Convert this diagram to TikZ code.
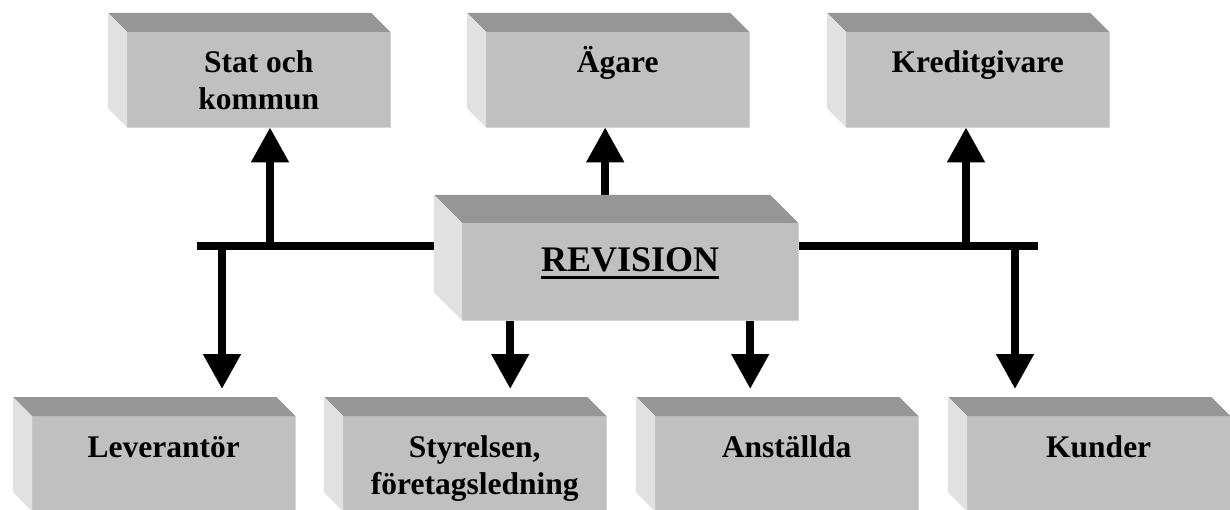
\documentclass[tikz,border=0pt]{standalone}
\usepackage{fontspec}
\setmainfont{Liberation Serif}
\usetikzlibrary{arrows.meta, backgrounds}

\definecolor{boxfront}{RGB}{192,192,192}
\definecolor{boxtop}{RGB}{150,150,150}
\definecolor{boxside}{RGB}{225,225,225}
\definecolor{boxedge}{RGB}{212,212,212}

\newcommand\twolines[2]{\begin{tabular}[t]{@{}c@{}}#1\\#2\end{tabular}}
\newcommand\thickul[1]{\vtop{\hbox{#1}\kern4.5pt\hrule height 3pt}}

\begin{document}
\begin{tikzpicture}[x=1pt, y=-1pt,
    box/.style={rectangle, fill=boxfront, inner sep=0pt,
        minimum width=263pt, text height=40pt, text depth=55pt,
        anchor=north west, font=\bfseries\fontsize{31.5}{37}\selectfont},
    lowbox/.style={box, text height=41pt, text depth=54pt},
    revbox/.style={box, minimum width=336pt, text height=48pt,
        text depth=49pt, font=\bfseries\fontsize{36}{42}\selectfont},
    bus/.style={line width=8pt},
    pil/.style={line width=8pt, -{Triangle[width=36pt, length=35pt]}}]

    \useasboundingbox (0,0) rectangle (1230,510);

    \node[revbox] (rev) at (462,223) {\thickul{REVISION}};

    \node[box] (stat) at (127,32) {\twolines{Stat och}{kommun}};
    \node[box] (agare) at (486,32) {Ägare};
    \node[box] (kredit) at (846,32) {Kreditgivare};

    \node[lowbox] (lev) at (32,416) {Leverantör};
    \node[lowbox] (styr) at (343,416) {\twolines{Styrelsen,}{företagsledning}};
    \node[lowbox] (anst) at (655,416) {Anställda};
    \node[lowbox] (kund) at (967,416) {Kunder};

    \foreach \n/\d in {stat/19, agare/19, kredit/19, lev/19, styr/19,
        anst/19, kund/19, rev/28} {
        \fill[boxtop] (\n.north west) -- ++(-\d,-\d)
            -- ([shift={(-\d,-\d)}]\n.north east) -- (\n.north east) -- cycle;
        \fill[boxside] (\n.north west) -- ++(-\d,-\d)
            -- ([shift={(-\d,-\d)}]\n.south west) -- (\n.south west) -- cycle;
        \draw[boxedge, line width=1.5pt] (\n.north east) -- (\n.south east)
            -- (\n.south west);
    }

    \coordinate (busL) at (197,246);
    \coordinate (busR) at (1038,246);
    \coordinate (jStat) at (270,246);
    \coordinate (jKredit) at (966,246);
    \coordinate (jLev) at (222,246);
    \coordinate (jKund) at (1015,246);
    \coordinate (jAgare) at ([xshift=-25pt]rev.north);
    \coordinate (jStyr) at ([xshift=-120pt]rev.south);
    \coordinate (jAnst) at ([xshift=120pt]rev.south);
    \coordinate (tipDown) at (0,389);

    \begin{scope}[on background layer]
        \draw[bus] (busL) -- (busR);
        \draw[pil] (jStat) -- (jStat |- stat.south);
        \draw[pil] (jAgare) -- (jAgare |- agare.south);
        \draw[pil] (jKredit) -- (jKredit |- kredit.south);
        \draw[pil] (jLev) -- (jLev |- tipDown);
        \draw[pil] (jStyr) -- (jStyr |- tipDown);
        \draw[pil] (jAnst) -- (jAnst |- tipDown);
        \draw[pil] (jKund) -- (jKund |- tipDown);
    \end{scope}
\end{tikzpicture}
\end{document}
